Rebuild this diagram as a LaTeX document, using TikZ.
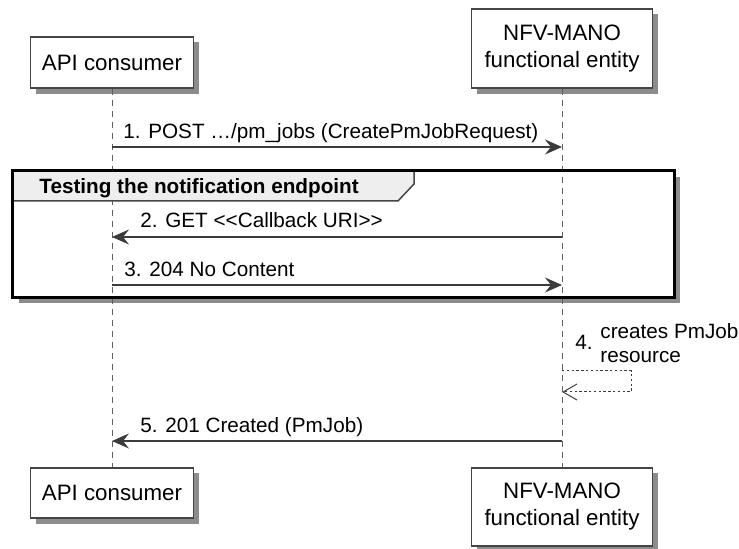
\documentclass[tikz,border=0pt]{standalone}
\usepackage{fontspec}
\setmainfont{Liberation Sans}
\usetikzlibrary{arrows.meta}

\definecolor{boxline}{HTML}{454545}
\definecolor{msgline}{HTML}{3C3C3C}
\definecolor{tabfill}{HTML}{EEEEEE}
\definecolor{shadowgray}{HTML}{8C8C8C}

\tikzset{
    actor/.style={draw=boxline, line width=0.75pt, fill=white, align=center,
        font=\fontsize{11.15}{13.5}\selectfont},
    boxshade/.style={fill=shadowgray, draw=none},
    life/.style={draw=boxline!85, line width=0.5pt, dash pattern=on 3pt off 2.5pt},
    msg/.style={draw=msgline, line width=0.6pt, -{Stealth[length=8.5pt, width=7.5pt, inset=3pt]}},
    selfmsg/.style={draw=msgline, line width=0.5pt, dash pattern=on 1.2pt off 1.2pt,
        -{Straight Barb[length=7pt, width=8pt]}},
    lbl/.style={anchor=base west, inner sep=0pt, font=\fontsize{10.35}{12}\selectfont},
}

\begin{document}
\begin{tikzpicture}[x=0.5pt, y=-0.5pt]
        \useasboundingbox (0,0) rectangle (739,549);

        % shadows
        \fill[boxshade] (36,42) rectangle (199,94);
        \fill[boxshade] (477,14) rectangle (658,94);
        \fill[boxshade] (36,473) rectangle (199,524);
        \fill[boxshade] (477,473) rectangle (658,549);
        \fill[boxshade] (19,177) rectangle (680,303);

        % participants
        \node[actor, minimum width=81.5pt, minimum height=25.5pt] (apiT) at (112,62.5) {API consumer};
        \node[actor, minimum width=90.5pt, minimum height=39.5pt] (nfvT) at (562,48.5) {NFV-MANO\\functional entity};
        \node[actor, minimum width=81.5pt, minimum height=25pt] (apiB) at (112,493) {API consumer};
        \node[actor, minimum width=90.5pt, minimum height=39pt] (nfvB) at (562,507) {NFV-MANO\\functional entity};

        % group body
        \node[draw=none, fill=white, minimum width=330.5pt, minimum height=63pt] (grp) at (343.5,234) {};

        \draw[life] (apiT) -- (apiB);
        \draw[life] (nfvT) -- (nfvB);

        % group tab
        \fill[tabfill] (13,171) -- (414,171) -- (414,184) -- (398,201) -- (13,201) -- cycle;
        \draw[boxline, line width=0.75pt] (414,171) -- (414,184) -- (398,201) -- (13,201);
        \node[lbl, font=\fontsize{10.35}{12}\selectfont\bfseries] (grpname) at (39,194) {Testing the notification endpoint};
        \draw[line width=1.5pt] (grp.north west) rectangle (grp.south east);

        \coordinate (a1) at (112,147);
        \coordinate (n1) at (562,147);
        \coordinate (a2) at (112,237);
        \coordinate (n2) at (562,237);
        \coordinate (a3) at (112,285);
        \coordinate (n3) at (562,285);
        \coordinate (s1) at (562,371);
        \coordinate (s2) at (562,392);
        \coordinate (s3) at (631,371);
        \coordinate (a5) at (112,441);
        \coordinate (n5) at (562,441);

        % messages
        \node[lbl] (m1) at (123,139) {1. POST …/pm\_jobs (CreatePmJobRequest)};
        \draw[msg] (a1) -- (n1);

        \node[lbl] (m2) at (140,228) {2. GET <{}<Callback URI>{}>};
        \draw[msg] (n2) -- (a2);

        \node[lbl] (m3) at (124,277) {3. 204 No Content};
        \draw[msg] (a3) -- (n3);

        \node[lbl] (m4) at (575,350) {4.};
        \node[lbl] (m4a) at (600,339) {creates PmJob};
        \node[lbl] (m4b) at (600,363) {resource};
        \draw[selfmsg] (s1) -- (s3) |- (s2);

        \node[lbl] (m5) at (140,433) {5. 201 Created (PmJob)};
        \draw[msg] (n5) -- (a5);

    \end{tikzpicture}
\end{document}
